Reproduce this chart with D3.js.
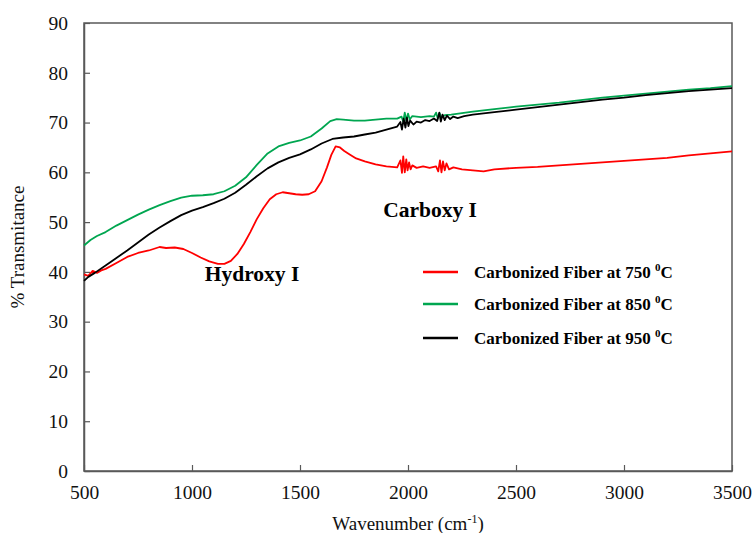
<!DOCTYPE html>
<html>
<head>
<meta charset="utf-8">
<script src="https://cdn.jsdelivr.net/npm/d3@7"></script>
<style>
  body { margin: 0; background: #fff; }
  text { font-family: "Liberation Serif", "Times New Roman", serif; }
</style>
</head>
<body>
<svg id="chart" width="754" height="533"></svg>
<script>
// tick values
const xTicks = [500, 1000, 1500, 2000, 2500, 3000, 3500];
const yTicks = [0, 10, 20, 30, 40, 50, 60, 70, 80, 90];

// series labels
const seriesNames = ["Carbonized Fiber at 750 ", "Carbonized Fiber at 850 ", "Carbonized Fiber at 950 "];

// [wavenumber, % transmittance]
const fiber750 = [
  [500,39.5],[520,39.2],[540,40.2],[560,39.8],[580,40.3],[600,40.6],[650,41.8],[700,43],[750,43.8],
  [800,44.3],[850,45],[880,44.8],[920,44.9],[960,44.6],[1000,43.8],[1040,42.9],[1080,42.1],[1120,41.6],
  [1150,41.6],[1180,42.2],[1210,43.6],[1240,45.6],[1270,48],[1300,50.6],[1330,52.8],[1360,54.6],
  [1390,55.6],[1420,56],[1450,55.8],[1480,55.6],[1510,55.5],[1540,55.6],[1570,56.2],[1600,58.2],
  [1625,61],[1645,63.5],[1665,65.2],[1685,65],[1705,64.3],[1730,63.6],[1760,62.8],[1800,62.2],
  [1850,61.6],[1900,61.2],[1950,61],[1965,62.4],[1972,59.9],[1978,63.2],[1985,60],[1992,62.6],
  [1998,60.4],[2005,62],[2012,60.6],[2020,61.4],[2040,60.9],[2070,61.2],[2100,60.9],[2130,61.2],
  [2140,60.2],[2148,62.4],[2155,60],[2162,62.2],[2170,60.4],[2178,61.8],[2190,60.6],[2210,61],
  [2250,60.6],[2300,60.4],[2350,60.2],[2400,60.6],[2500,60.9],[2600,61.1],[2700,61.4],[2800,61.7],
  [2900,62],[3000,62.3],[3100,62.6],[3200,62.9],[3300,63.4],[3400,63.8],[3500,64.2]
];

const fiber850 = [
  [500,45.3],[530,46.4],[560,47.2],[600,48],[650,49.3],[700,50.4],[750,51.5],[800,52.5],[850,53.4],
  [900,54.2],[950,54.9],[1000,55.3],[1050,55.4],[1100,55.6],[1150,56.2],[1200,57.3],[1250,59],
  [1300,61.5],[1350,63.8],[1400,65.2],[1450,65.9],[1500,66.4],[1550,67.2],[1600,68.8],[1640,70.3],
  [1670,70.7],[1700,70.6],[1750,70.4],[1800,70.4],[1850,70.6],[1900,70.8],[1950,70.8],[1970,71.2],
  [1978,70.2],[1985,72],[1992,70.4],[2000,71.8],[2008,70.6],[2020,71.3],[2060,71.1],[2100,71.3],
  [2120,71.2],[2130,72],[2138,70.8],[2146,71.9],[2155,71],[2170,71.5],[2200,71.6],[2250,71.9],
  [2300,72.2],[2400,72.7],[2500,73.2],[2600,73.6],[2700,74],[2800,74.5],[2900,75],[3000,75.4],
  [3100,75.8],[3200,76.2],[3300,76.6],[3400,76.9],[3500,77.3]
];

const fiber950 = [
  [500,38.2],[520,39],[550,39.8],[600,41.3],[650,42.8],[700,44.3],[750,45.9],[800,47.5],[850,48.9],
  [900,50.2],[950,51.4],[1000,52.3],[1050,53],[1100,53.8],[1150,54.7],[1200,55.9],[1250,57.5],
  [1300,59.2],[1350,60.8],[1400,62],[1450,62.9],[1500,63.6],[1550,64.6],[1600,65.8],[1650,66.7],
  [1700,67],[1750,67.2],[1800,67.6],[1850,68],[1900,68.6],[1950,69.2],[1965,70.1],[1972,68.6],
  [1980,70.8],[1988,69],[1995,71],[2002,69.3],[2010,70.4],[2025,69.6],[2040,70.2],[2060,70],
  [2080,70.5],[2100,70.3],[2120,70.8],[2135,70.3],[2145,72],[2152,70.2],[2160,71.6],[2170,70.5],
  [2180,71.4],[2195,70.7],[2210,71.2],[2230,70.9],[2260,71.3],[2300,71.6],[2400,72.1],[2500,72.6],
  [2600,73.1],[2700,73.6],[2800,74.1],[2900,74.6],[3000,75],[3100,75.5],[3200,75.9],[3300,76.3],
  [3400,76.6],[3500,76.9]
];

const colors = ["#ff0000", "#00a650", "#000000"];
const allSeries = [fiber750, fiber850, fiber950];

const width = 754, height = 533;
const margin = { top: 23, right: 22, bottom: 62, left: 84 };
const innerW = width - margin.left - margin.right;
const innerH = height - margin.top - margin.bottom;

const svg = d3.select("#chart");
const g = svg.append("g").attr("transform", `translate(${margin.left},${margin.top})`);

const x = d3.scaleLinear().domain([500, 3500]).range([0, innerW]);
const y = d3.scaleLinear().domain([0, 90]).range([innerH, 0]);

// frame
g.append("rect")
  .attr("width", innerW).attr("height", innerH)
  .attr("fill", "none").attr("stroke", "#595959").attr("stroke-width", 1.5);

// axes, ticks pointing inward
const xAxis = g.append("g")
  .attr("transform", `translate(0,${innerH})`)
  .call(d3.axisBottom(x).tickValues(xTicks).tickFormat(d3.format("d"))
    .tickSizeInner(-6).tickSizeOuter(0).tickPadding(14));
const yAxis = g.append("g")
  .call(d3.axisLeft(y).tickValues(yTicks).tickFormat(d3.format("d"))
    .tickSizeInner(-6).tickSizeOuter(0).tickPadding(16));

[xAxis, yAxis].forEach(a => {
  a.select(".domain").attr("stroke", "#595959").attr("stroke-width", 1.5);
  a.selectAll(".tick line").attr("stroke", "#595959").attr("stroke-width", 1.2);
  a.selectAll(".tick text")
    .attr("fill", "#111")
    .style("font-size", "19.5px")
    .style("font-family", "'Liberation Serif', serif");
});

// lines
const line = d3.line().x(d => x(d[0])).y(d => y(d[1]));
allSeries.forEach((s, i) => {
  g.append("path")
    .datum(s)
    .attr("fill", "none")
    .attr("stroke", colors[i])
    .attr("stroke-width", 1.8)
    .attr("stroke-linejoin", "round")
    .attr("d", line);
});

// annotations
g.append("text")
  .attr("x", x(1278)).attr("y", y(38.2))
  .attr("text-anchor", "middle")
  .style("font-size", "21.5px").style("font-weight", "bold")
  .text("Hydroxy I");
g.append("text")
  .attr("x", x(2102)).attr("y", y(51))
  .attr("text-anchor", "middle")
  .style("font-size", "21.5px").style("font-weight", "bold")
  .text("Carboxy I");

// legend
const legend = g.append("g").attr("transform", `translate(${423 - margin.left},${272 - margin.top})`);
const rowY = [0, 32, 66];
seriesNames.forEach((name, i) => {
  const row = legend.append("g").attr("transform", `translate(0,${rowY[i]})`);
  row.append("line")
    .attr("x1", 0).attr("x2", 35).attr("y1", 0).attr("y2", 0)
    .attr("stroke", colors[i]).attr("stroke-width", 2.5);
  const t = row.append("text")
    .attr("x", 51).attr("y", 6)
    .style("font-size", "17px").style("font-weight", "bold");
  t.append("tspan").text(name);
  t.append("tspan").attr("dy", -7).style("font-size", "11px").text("0");
  t.append("tspan").attr("dy", 7).text("C");
});

// axis titles
const xt = svg.append("text")
  .attr("x", margin.left + innerW / 2)
  .attr("y", 530)
  .attr("text-anchor", "middle")
  .style("font-size", "19px")
  .attr("fill", "#111");
xt.append("tspan").text("Wavenumber (cm");
xt.append("tspan").attr("dy", -7).style("font-size", "12px").text("-1");
xt.append("tspan").attr("dy", 7).text(")");

svg.append("text")
  .attr("transform", `translate(24,${margin.top + innerH / 2}) rotate(-90)`)
  .attr("text-anchor", "middle")
  .style("font-size", "19px")
  .attr("fill", "#111")
  .text("% Transmitance");
</script>
</body>
</html>
